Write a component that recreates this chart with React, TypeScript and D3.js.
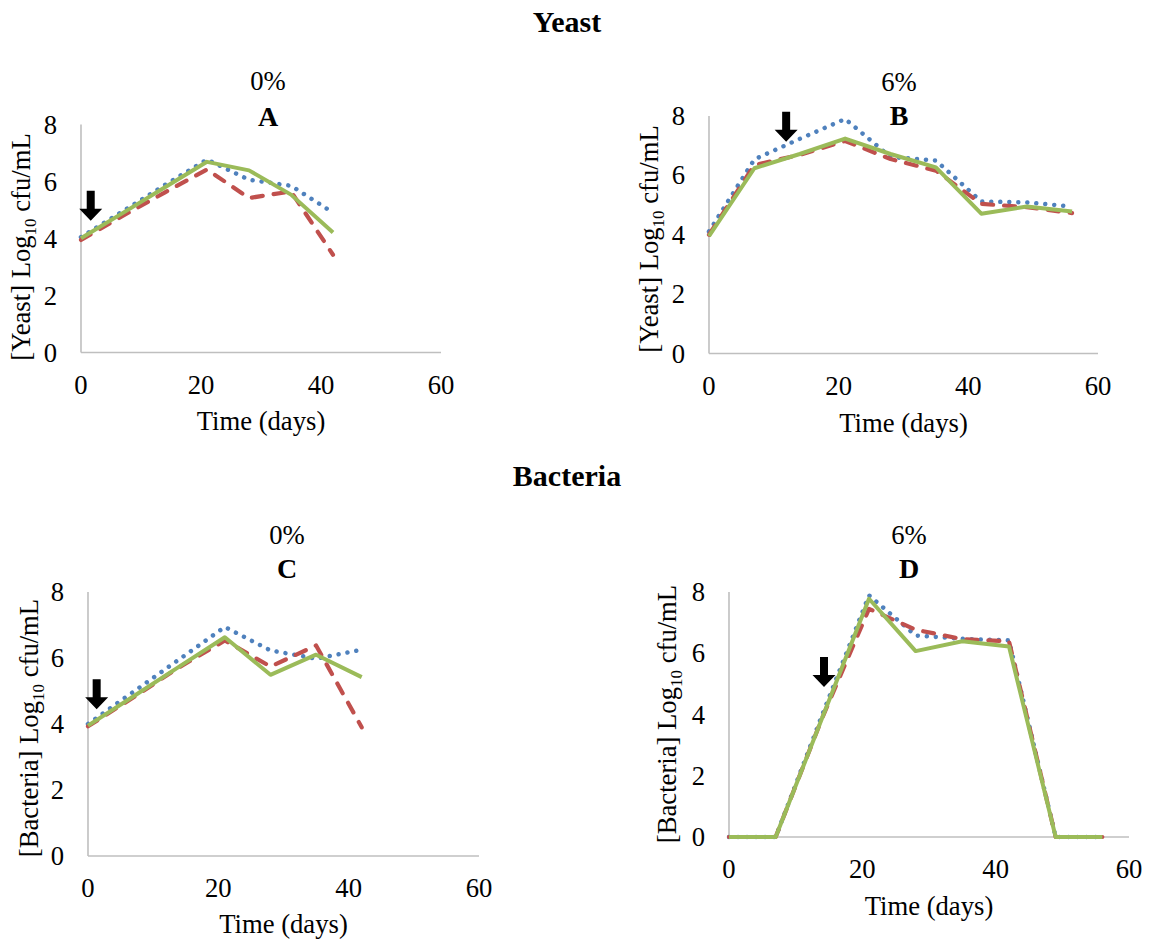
import React from "react";
import * as d3 from "d3";

// ---------- DATA ----------
const xTicks = [0, 20, 40, 60];
const yTicks = [0, 2, 4, 6, 8];

const daysA = [0, 7, 14, 21, 28, 35, 42];
const yeast0Blue = [4.05, 4.96, 5.88, 6.77, 6.06, 5.85, 4.91];
const yeast0Red = [3.95, 4.8, 5.62, 6.42, 5.42, 5.65, 3.43];
const yeast0Green = [4.01, 4.9, 5.8, 6.69, 6.39, 5.54, 4.21];

const daysB = [0, 7, 14, 21, 28, 35, 42, 49, 56];
const yeast6Blue = [4.11, 6.54, 7.23, 7.9, 6.62, 6.5, 5.12, 5.09, 4.95];
const yeast6Red = [4.0, 6.35, 6.69, 7.16, 6.55, 6.16, 5.04, 4.93, 4.73];
const yeast6Green = [3.95, 6.24, 6.72, 7.24, 6.72, 6.27, 4.71, 4.95, 4.78];

const daysC = [0, 7, 14, 21, 28, 35, 42];
const bact0Blue = [4.0, 4.98, 5.96, 6.94, 6.23, 5.98, 6.25];
const bact0Red = [3.93, 4.81, 5.72, 6.53, 5.74, 6.38, 3.9];
const bact0Green = [3.95, 4.84, 5.74, 6.63, 5.49, 6.1, 5.42];

const daysD = [0, 7, 14, 21, 28, 35, 42, 49, 56];
const bact6Blue = [0, 0, 4.0, 7.89, 6.58, 6.47, 6.42, 0, 0];
const bact6Red = [0, 0, 3.9, 7.45, 6.77, 6.46, 6.39, 0, 0];
const bact6Green = [0, 0, 3.9, 7.78, 6.07, 6.39, 6.22, 0, 0];

// arrow annotations: [day, value at arrow tip]
const arrowA = [1.62, 4.62];
const arrowB = [11.9, 7.13];
const arrowC = [1.33, 4.45];
const arrowD = [14.25, 4.9];

// ---------- STYLE ----------
const FONT = "'Liberation Serif', 'Times New Roman', Times, serif";
const BLUE = "#4F81BD";
const RED = "#C0504D";
const GREEN = "#9BBB59";
const AXIS = "#BFBFBF";
const FS = 26.67;

type PanelCfg = {
  days: number[];
  blue: number[];
  red: number[];
  green: number[];
  x0: number;
  x1: number;
  yTop: number;
  yBot: number;
  pct: string;
  letter: string;
  titleX: number;
  pctBase: number;
  letterBase: number;
  yTitle: string;
  yTitleX: number;
  yTitleCy: number;
  xTitleBase: number;
  arrow: number[];
};

const panels: PanelCfg[] = [
  {
    days: daysA, blue: yeast0Blue, red: yeast0Red, green: yeast0Green,
    x0: 81, x1: 441, yTop: 124.5, yBot: 352.5,
    pct: "0%", letter: "A", titleX: 268, pctBase: 90, letterBase: 126,
    yTitle: "[Yeast]", yTitleX: 30, yTitleCy: 247, xTitleBase: 430, arrow: arrowA,
  },
  {
    days: daysB, blue: yeast6Blue, red: yeast6Red, green: yeast6Green,
    x0: 709, x1: 1098, yTop: 116, yBot: 353.5,
    pct: "6%", letter: "B", titleX: 899, pctBase: 91, letterBase: 125,
    yTitle: "[Yeast]", yTitleX: 658, yTitleCy: 239, xTitleBase: 432, arrow: arrowB,
  },
  {
    days: daysC, blue: bact0Blue, red: bact0Red, green: bact0Green,
    x0: 88, x1: 479, yTop: 592, yBot: 856,
    pct: "0%", letter: "C", titleX: 287, pctBase: 544, letterBase: 578,
    yTitle: "[Bacteria]", yTitleX: 38, yTitleCy: 728, xTitleBase: 933, arrow: arrowC,
  },
  {
    days: daysD, blue: bact6Blue, red: bact6Red, green: bact6Green,
    x0: 729, x1: 1129, yTop: 592, yBot: 837,
    pct: "6%", letter: "D", titleX: 909, pctBase: 544, letterBase: 578,
    yTitle: "[Bacteria]", yTitleX: 676, yTitleCy: 714, xTitleBase: 915, arrow: arrowD,
  },
];

function Panel({ p }: { p: PanelCfg }) {
  const x = d3.scaleLinear().domain([0, 60]).range([p.x0, p.x1]);
  const y = d3.scaleLinear().domain([0, 8]).range([p.yBot, p.yTop]);
  const line = d3
    .line<number>()
    .x((_, i) => x(p.days[i]))
    .y((v) => y(v));

  const tx = x(p.arrow[0]);
  const ty = y(p.arrow[1]);
  const arrowPts = [
    [tx, ty],
    [tx - 11.5, ty - 12],
    [tx - 4, ty - 12],
    [tx - 4, ty - 30],
    [tx + 4, ty - 30],
    [tx + 4, ty - 12],
    [tx + 11.5, ty - 12],
  ]
    .map((d) => d.join(","))
    .join(" ");

  const xMid = (p.x0 + p.x1) / 2;

  return (
    <g fontFamily={FONT} fill="#000">
      {/* axes */}
      <line x1={p.x0} x2={p.x0} y1={p.yTop} y2={p.yBot} stroke={AXIS} strokeWidth={1.6} />
      <line x1={p.x0} x2={p.x1} y1={p.yBot} y2={p.yBot} stroke={AXIS} strokeWidth={1.6} />
      {yTicks.map((t) => (
        <text key={"y" + t} x={p.x0 - 24} y={y(t) + 9} textAnchor="end" fontSize={FS}>
          {t}
        </text>
      ))}
      {xTicks.map((t) => (
        <text key={"x" + t} x={x(t)} y={p.yBot + 41} textAnchor="middle" fontSize={FS}>
          {t}
        </text>
      ))}
      {/* series */}
      <path
        d={line(p.blue) || ""}
        fill="none"
        stroke={BLUE}
        strokeWidth={4.5}
        strokeLinecap="round"
        strokeLinejoin="round"
        strokeDasharray="0.01 9"
      />
      <path
        d={line(p.red) || ""}
        fill="none"
        stroke={RED}
        strokeWidth={4.2}
        strokeLinecap="round"
        strokeLinejoin="round"
        strokeDasharray="11 11"
      />
      <path
        d={line(p.green) || ""}
        fill="none"
        stroke={GREEN}
        strokeWidth={4}
        strokeLinejoin="round"
      />
      {/* arrow */}
      <polygon points={arrowPts} fill="#000" />
      {/* titles */}
      <text x={p.titleX} y={p.pctBase} textAnchor="middle" fontSize={FS}>
        {p.pct}
      </text>
      <text x={p.titleX} y={p.letterBase} textAnchor="middle" fontSize={28} fontWeight="bold">
        {p.letter}
      </text>
      <text x={xMid} y={p.xTitleBase} textAnchor="middle" fontSize={FS}>
        Time (days)
      </text>
      <text
        transform={`translate(${p.yTitleX},${p.yTitleCy}) rotate(-90)`}
        textAnchor="middle"
        fontSize={FS}
      >
        {p.yTitle} Log
        <tspan fontSize={17} dy={6}>
          10
        </tspan>
        <tspan dy={-6}> cfu/mL</tspan>
      </text>
    </g>
  );
}

export default function App() {
  return (
    <svg
      width={1153}
      height={941}
      style={{ position: "absolute", left: 0, top: 0, background: "#fff" }}
    >
      <rect width={1153} height={941} fill="#fff" />
      <text x={567} y={32} textAnchor="middle" fontFamily={FONT} fontWeight="bold" fontSize={30}>
        Yeast
      </text>
      <text x={567} y={486} textAnchor="middle" fontFamily={FONT} fontWeight="bold" fontSize={30}>
        Bacteria
      </text>
      {panels.map((p, i) => (
        <Panel key={i} p={p} />
      ))}
    </svg>
  );
}
